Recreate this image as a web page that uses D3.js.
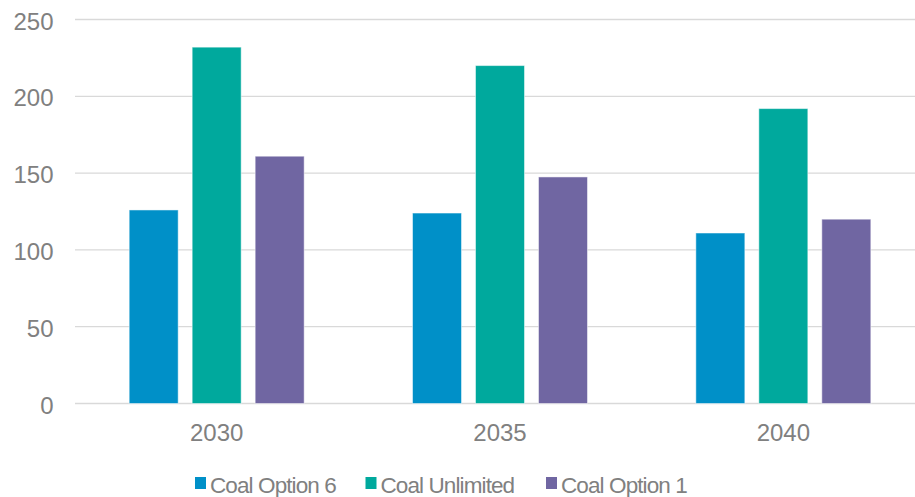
<!DOCTYPE html>
<html>
<head>
<meta charset="utf-8">
<script src="https://cdn.jsdelivr.net/npm/d3@7"></script>
<style>
  html, body { margin: 0; padding: 0; background: #fff; }
  svg { display: block; font-family: "Liberation Sans", Arial, sans-serif; }
</style>
</head>
<body>
<svg id="chart" width="915" height="497"></svg>
<script>
// Years on the category axis
const categories = ["2030", "2035", "2040"];
// Scenario names, in legend order
const seriesNames = ["Coal Option 6", "Coal Unlimited", "Coal Option 1"];
// Values per scenario, one per year
const coalOption6 = [126, 124, 111];
const coalUnlimited = [232, 220, 192];
const coalOption1 = [161, 147.5, 120];
// Value axis ticks
const yTicks = [0, 50, 100, 150, 200, 250];
const colors = ["#0090c8", "#00a99d", "#7066a2"];

const seriesValues = [coalOption6, coalUnlimited, coalOption1];

const svg = d3.select("#chart");
const textColor = "#808080";

const x = d3.scaleBand().domain(categories).range([75, 925]).padding(0);
const xs = d3.scaleBand().domain(seriesNames).range([0, x.bandwidth()])
  .paddingInner(0.222).paddingOuter(0.86);
const y = d3.scaleLinear().domain([0, 250]).range([403.5, 19.5]);

// Horizontal gridlines
svg.append("g").selectAll("line").data(yTicks).join("line")
  .attr("x1", 75).attr("x2", 925)
  .attr("y1", d => y(d)).attr("y2", d => y(d))
  .attr("stroke", "#d9d9d9").attr("stroke-width", 1.3);

// Y axis labels
const yAxis = d3.axisLeft(y).tickValues(yTicks).tickSize(0).tickPadding(0);
const gy = svg.append("g").attr("transform", "translate(53.5,0)").call(yAxis);
gy.select(".domain").remove();
gy.selectAll("text").attr("fill", textColor).style("font-size", "24px")
  .style("font-family", "'Liberation Sans', Arial, sans-serif").attr("dy", "0.4em");

// X axis labels
const xAxis = d3.axisBottom(x).tickSize(0).tickPadding(0);
const gx = svg.append("g").attr("transform", "translate(0,441)").call(xAxis);
gx.select(".domain").remove();
gx.selectAll("text").attr("fill", textColor).style("font-size", "24px")
  .style("font-family", "'Liberation Sans', Arial, sans-serif").attr("y", 0).attr("dy", 0);

// Bars
const groups = svg.append("g").selectAll("g").data(categories).join("g")
  .attr("transform", d => `translate(${x(d)},0)`);
groups.selectAll("rect")
  .data((c, ci) => seriesNames.map((s, si) => ({ s, si, v: seriesValues[si][ci] })))
  .join("rect")
  .attr("x", d => xs(d.s))
  .attr("width", xs.bandwidth())
  .attr("y", d => y(d.v))
  .attr("height", d => y(0) - y(d.v))
  .attr("fill", d => colors[d.si])
  .attr("stroke", "rgba(255,255,255,0.5)")
  .attr("stroke-width", 1);

// Legend
const legendX = [195, 365.5, 546];
const leg = svg.append("g").selectAll("g").data(seriesNames).join("g")
  .attr("transform", (d, i) => `translate(${legendX[i]},0)`);
leg.append("rect").attr("x", 0).attr("y", 477).attr("width", 11).attr("height", 12)
  .attr("fill", (d, i) => colors[i]);
leg.append("text").attr("x", 15).attr("y", 493)
  .attr("fill", textColor).style("font-size", "22.5px")
  .style("letter-spacing", "-0.9px").text(d => d);
</script>
</body>
</html>
